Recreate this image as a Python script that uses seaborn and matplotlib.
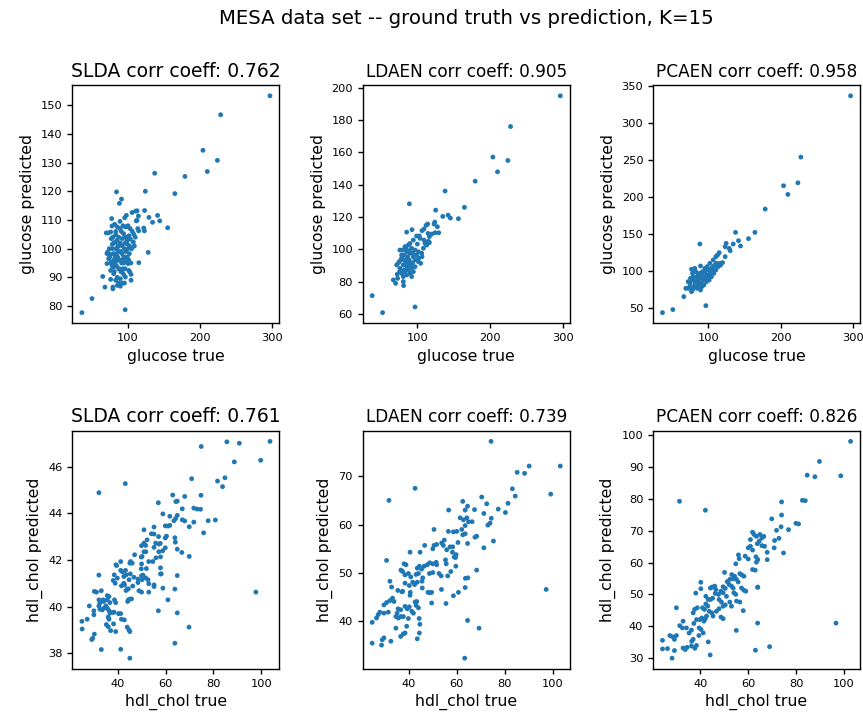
import matplotlib
matplotlib.use("Agg")
import matplotlib.pyplot as plt
from matplotlib.ticker import MultipleLocator
import pandas as pd
import seaborn as sns

# ---------------- data (true, predicted) ----------------
slda_glucose = [
    (297, 153.3), (228.5, 146.7), (204, 134.3), (224, 130.8), (210, 126.9), (179, 125.2), (137, 126.3),
    (165, 119.2), (124, 120), (84, 119.8), (91, 117.3), (88, 115.8), (36, 77.7), (50, 82.6), (96, 78.7),
    (65, 90.3), (68, 86.6), (79, 86.6), (79, 86.0), (115, 95.1), (128, 98.7), (155, 107.3), (141, 111.6),
    (144, 109.7), (134, 109.2), (129, 110.9), (123, 113.3), (112.5, 113.2), (110.6, 113.1), (105.6, 112.6),
    (114.4, 111.4), (112.5, 109.9), (111.5, 109.7), (97.7, 111.6), (95.4, 110.8), (77.3, 110.5), (88.9, 109.5),
    (81.4, 108.5), (77.7, 107.9), (85.2, 107.6), (96.3, 107.6), (98.6, 107.6), (113.5, 107), (121.8, 107.2),
    (122.7, 106.2), (114.8, 106.2), (72.6, 105.5), (69.8, 105.5), (75.9, 105.8), (90.7, 106), (82.8, 104.9),
    (94, 105.2), (101.4, 104.5), (103.2, 103.3), (92.1, 103.5), (76.8, 103.5), (107.4, 102.3), (108.8, 100.9),
    (98.6, 101.7), (82.4, 102.3), (78.2, 101.5), (87, 100.9), (100, 100), (71.7, 98.8), (70.8, 98.3),
    (74.5, 97.1), (80, 98.3), (85.6, 99.4), (91.6, 98.3), (96.3, 97.1), (101.9, 98.3), (70.8, 94.8),
    (77.7, 95.3), (84.7, 95.9), (94, 95), (100, 94.8), (80, 93.6), (87, 93), (75.9, 92.4), (91.6, 91.9),
    (101, 92.4), (104.2, 91), (102.3, 91.9), (75.9, 89.3), (82.8, 89), (89.3, 89.5), (96.3, 90.1), (104.2, 89),
    (85.2, 87.2), (89.3, 86.9), (80, 91.3), (73.1, 96.5),
    (78, 100), (80, 96), (82, 97), (84, 94), (86, 97), (88, 96), (90, 99), (92, 101), (94, 97), (96, 93),
    (98, 96), (79, 104), (83, 106), (87, 104), (89, 102), (91, 95), (93, 93), (95, 100), (97, 104), (99, 103),
    (76, 98), (74, 100), (81, 92), (85, 90), (87, 88), (92, 88), (95, 88), (83, 100), (86, 101), (88, 93),
    (90, 92), (94, 91), (97, 99), (99, 97), (80, 102), (78, 94), (76, 95), (85, 103), (93, 108), (89, 107),
    (96, 102), (92, 96), (84, 98), (82, 95), (88, 99), (102, 101), (105, 100), (106, 106), (103, 107),
    (100, 108), (110, 104), (108, 105), (101, 96), (104, 95),
]

ldaen_glucose = [
    (296.3, 194.9), (228, 175.9), (203.7, 157), (224.3, 154.9), (210.1, 147.9), (179.4, 142.1), (138.1, 136),
    (89, 128.1), (164.7, 125.9), (125.2, 124.2), (134.9, 120.3), (142.2, 121.1), (145.4, 119.3), (156.4, 118.9),
    (92.7, 112.1), (85.3, 110.6), (114.2, 115.6), (112, 114.8), (124, 116.8), (123, 115.6), (127.5, 113.9),
    (124.3, 110.2), (129.4, 110.2), (106.4, 111.5), (109.2, 112.5), (114.7, 109.8), (99, 108.2), (102.8, 108.2),
    (115, 104.9), (116.5, 104.1), (110.6, 103.6), (94.5, 105.7), (89.9, 103.6), (104.6, 91.3), (67, 81),
    (70.2, 78.9), (72.9, 82), (72.4, 84.5), (80.7, 80), (81.2, 77.5), (38, 71.3), (52.3, 60.8), (96.8, 64.3),
    (76.1, 99.5), (83, 101.6), (87.6, 102.6), (92.2, 100.6), (96.8, 99.5), (101.4, 98.5), (106, 97.5),
    (108.3, 100.6), (71.6, 90.3), (75.2, 92.3), (78.4, 94.4), (81.7, 96.4), (85.3, 98.5), (89.9, 97.5),
    (94.5, 95.4), (99, 96.4), (76.1, 88.2), (80.7, 90.3), (84.4, 92.3), (88.9, 93.4), (93.6, 91.7), (78.4, 85.1),
    (83, 86.1), (87.6, 87.2), (92.2, 88.2), (80.7, 83.1), (85.3, 84.1), (89.9, 85.1), (94.5, 86.1), (97.2, 93.4),
    (101.8, 94.4), (106.4, 95.4), (86.7, 95.4), (83, 93.4), (78.4, 96.4), (90.8, 90.3), (86.2, 89.2),
    (81.7, 87.2), (96.8, 89.2), (101.4, 92.3), (79.8, 99.5), (84.4, 100.6), (112.8, 102.6), (109.2, 105.7),
    (103.7, 106.7), (100, 103.2), (116.5, 107.8), (119.7, 109.4), (75.7, 86.1), (74.3, 91.7), (77.5, 93.4),
    (89, 99.1), (93.6, 97.5), (88, 91.7), (83.5, 90.9), (92.2, 83.1),
]

pcaen_glucose = [
    (296.3, 336.6), (227.8, 253.8), (203.9, 215.1), (223.7, 219.1), (209.9, 203.4), (178.6, 183.6),
    (137.7, 152.1), (164.4, 152.1), (155.6, 143.6), (141.8, 140.9), (144.6, 133.7), (134.5, 136.4),
    (124.8, 137.3), (123.4, 132.8), (129, 130.5), (130.3, 127.4), (123.4, 119.3), (88.5, 136.4), (115.2, 124.7),
    (110.6, 119.3), (112.9, 121.5), (106.9, 114.8), (102.3, 110.3), (116.1, 110.3), (96.8, 53.1), (37, 43.7),
    (51.3, 47.8), (66.4, 65.3), (69.2, 76.5), (72.4, 85.5), (77, 102.2), (81.6, 103.5), (89.4, 106.7),
    (74.7, 78.8), (78.4, 74.3), (77, 87.8), (81.6, 83.3), (79.3, 92.3), (83.9, 87.8), (86.2, 94.5), (88.5, 90),
    (90.8, 96.8), (93.1, 92.3), (95.4, 99), (97.7, 94.5), (100, 101.3), (102.3, 96.8), (104.6, 103.5),
    (106.9, 105.8), (109.2, 108), (111.5, 110.3), (74.7, 83.3), (75.6, 90), (80.2, 78.8), (83, 81), (86.2, 85.5),
    (87.6, 78.8), (90.8, 83.3), (93.1, 87.8), (96.8, 90), (100, 92.3), (103.2, 99), (106, 101.3), (81.6, 90),
    (84.8, 92.3), (88.5, 96.8), (92.2, 99), (95.4, 103.5), (98.6, 105.8), (78.4, 96.8), (83, 99), (72.4, 76.5),
    (77, 72), (84.8, 76.5), (89.4, 74.3), (94, 81), (97.7, 85.5), (101.4, 87.8), (104.6, 92.3), (107.8, 96.8),
    (110.6, 101.3), (113.8, 105.8), (117, 108), (119.8, 111.2), (80.7, 87.8), (86.7, 82.4), (91.3, 78.8),
]

slda_hdl = [
    (103.6, 47.08), (85.6, 47.06), (90.8, 47.0), (74.9, 46.86), (99.7, 46.27), (88.7, 46.2), (70.9, 45.48),
    (81.7, 45.38), (84.8, 45.52), (83.8, 45.14), (32.2, 44.88), (43.2, 45.27), (63, 44.78), (64.9, 44.52),
    (64.3, 44.5), (68, 44.72), (74.8, 44.77), (57, 44.45), (67, 44.19), (71.8, 44.22), (73.2, 44.18),
    (74.6, 44.17), (58.9, 43.97), (61.8, 43.87), (63.5, 43.68), (64.2, 43.77), (64.9, 43.91), (67, 43.72),
    (68, 43.67), (69.9, 43.42), (71.8, 43.62), (77.8, 43.68), (80.8, 43.71), (75.9, 43.16), (51, 43.29),
    (55.2, 43.41), (59.9, 43.46), (61, 43.45), (61.8, 43.48), (54.1, 43.12), (55.2, 43.11), (57.1, 43.0),
    (52.3, 42.86), (51, 42.72), (51.7, 42.62), (59.9, 42.94), (60.4, 43.02), (63.9, 42.95), (64.1, 42.76),
    (55.9, 42.72), (57.3, 42.68), (57.8, 42.71), (50, 42.61), (55.2, 42.54), (51.8, 42.35), (51, 42.35),
    (59.9, 42.52), (58.8, 42.39), (64.9, 42.46), (66.8, 42.32), (69.9, 42.15), (47.1, 42.22), (49.9, 42.12),
    (50.2, 42.15), (57.2, 42.35), (57.9, 42.13), (56, 42.09), (54.7, 41.93), (53, 41.93), (45.4, 41.93),
    (45.1, 41.86), (46.1, 41.86), (39.3, 41.79), (39.6, 41.76), (41.3, 41.93), (50, 41.83), (52, 41.63),
    (49.9, 41.62), (57.9, 41.66), (43.3, 41.55), (41.3, 41.55), (42, 41.49), (45.3, 41.4), (50.6, 41.35),
    (50, 41.32), (57.9, 41.4), (58.2, 41.4), (46.8, 41.26), (38.6, 41.36), (32.2, 41.35), (64.9, 41.33),
    (39.9, 41.22), (43.6, 41.36), (42.6, 41.29), (48.5, 41.18), (50.2, 41.15), (51.7, 41.23), (52.7, 41.15),
    (38.2, 41.12), (39, 41.0), (42.6, 41.0), (42.9, 40.93), (44.8, 41.15), (53, 40.98), (55.2, 40.93),
    (55.2, 40.86), (48.5, 41.03), (44, 40.75), (44.5, 40.76), (46.3, 40.88), (43.5, 40.69), (41.6, 40.89),
    (48.9, 40.68), (50, 40.62), (53, 40.62), (58.9, 40.79), (63.9, 40.75), (30.3, 40.65), (31.2, 40.62),
    (33.2, 40.68), (35.7, 40.47), (36.4, 40.43), (32.2, 40.29), (34, 40.29), (32.6, 40.15), (34.2, 40.22),
    (35.7, 40.29), (36.8, 40.17), (38.7, 40.29), (39.2, 40.17), (44.5, 40.29), (45.1, 40.32), (45.8, 40.33),
    (44.2, 40.22), (61, 40.29), (28.2, 40.03), (30.1, 39.82), (30.1, 39.65), (32.2, 40.03), (32.6, 39.89),
    (35.1, 40.03), (35.7, 39.93), (36.4, 39.83), (38.5, 39.76), (36.8, 39.72), (37.9, 39.75), (40.4, 39.7),
    (41.3, 39.7), (34.3, 39.93), (33.6, 39.86), (57, 39.82), (64.9, 39.73), (25.1, 39.37), (27.3, 39.46),
    (25.2, 39.04), (36.1, 39.55), (36.4, 39.46), (41.6, 39.46), (42.8, 39.43), (35.3, 39.23), (36.1, 39.14),
    (37.1, 38.97), (38.3, 39.26), (39.2, 38.93), (44, 39.12), (44.7, 39.0), (45.1, 38.93), (30.3, 38.82),
    (29.6, 38.64), (29.2, 38.59), (69.8, 39.12), (33.2, 38.16), (41.3, 38.17), (45.1, 37.79), (63.9, 38.43),
    (97.7, 40.62),
]

ldaen_hdl = [
    (74.3, 77.2), (103.2, 72.1), (90.2, 72.1), (85.2, 70.8), (88.3, 70.6), (83.2, 67.4), (84.4, 65.9),
    (99.2, 66.3), (42.6, 67.5), (31.7, 65), (62.5, 64.8), (64.5, 63.8), (63.5, 63), (70.4, 65.7), (72.5, 64.3),
    (67.4, 63.1), (56.6, 63), (77.3, 63.2), (81.4, 64.4), (80.3, 62.5), (71.3, 62.3), (74.4, 61.3), (73.9, 60.3),
    (73, 59.9), (61.4, 61.4), (62.8, 61), (64.2, 61.4), (64.9, 60.6), (66.4, 60.6), (63.5, 59.8), (62.1, 59),
    (58.6, 58.5), (60, 58.6), (50.5, 59), (56.5, 58.6), (62.5, 57.9), (63.5, 58.1), (67.6, 57.4), (68.3, 57.6),
    (75.3, 56.6), (71.3, 55.2), (64.5, 56.1), (60.5, 56.3), (58.3, 55.4), (54.8, 56.8), (53.7, 56.2),
    (54.4, 55.7), (51.6, 55.9), (50.5, 55.7), (50, 55), (46.6, 55.7), (55.8, 54.8), (57.2, 55.4), (58.2, 54.3),
    (58.9, 53.3), (59.5, 53.2), (59.7, 53.8), (55.3, 52.7), (55.6, 51.9), (40.5, 54.3), (44.7, 54.3),
    (51.4, 52.2), (51.6, 51.7), (48.7, 52.1), (50, 51.9), (46.4, 51.4), (47.7, 51.7), (44.4, 51.4), (45.3, 50.8),
    (43.5, 51), (38, 51.9), (38.8, 51.7), (30.7, 52.6), (36.7, 50.6), (37.4, 50.3), (38.4, 49.6), (39.8, 49.9),
    (40.8, 49.2), (41.6, 48.1), (43, 49.7), (44, 49.9), (45.8, 49), (48.6, 49.9), (50, 50.1), (53.5, 49.4),
    (52.6, 49.9), (56.2, 49.4), (57.5, 50.3), (59.6, 51.4), (64.6, 49), (68.3, 50.6), (45.5, 48.3), (43.5, 48.1),
    (42.4, 47.6), (40.2, 47.4), (38.4, 47.9), (32.1, 48.3), (32.8, 47.1), (35.4, 46.4), (37.4, 46.2),
    (37.1, 46.1), (40.6, 46), (40.5, 45.4), (48, 46), (48.8, 45.9), (49.5, 46), (53.6, 46.6), (45.6, 46.9),
    (49.5, 43.8), (55.5, 43.7), (58.6, 45.3), (60.7, 46), (63.5, 47), (63.6, 48.9), (97.3, 46.6), (29.6, 43.4),
    (30.7, 43.9), (32.1, 44.3), (33.2, 44.8), (33.8, 44.1), (27.9, 41.9), (27.2, 41.4), (29.6, 41.7),
    (31.4, 41.9), (24.7, 39.8), (26.5, 40.7), (35.1, 41.7), (35.5, 42.6), (36.6, 42.4), (34.6, 41), (35.6, 40.7),
    (36.7, 41), (37.7, 41), (38.4, 43.1), (39.3, 42.6), (40.2, 43), (41.2, 42.1), (41.9, 41.7), (42.6, 44),
    (43.3, 44.1), (43, 43.3), (44, 42.8), (39.8, 40.6), (44.3, 40.6), (44.6, 39.4), (34.6, 38.6), (39.1, 39),
    (37.7, 37.4), (38.4, 37.6), (36.6, 36.9), (43.5, 36.4), (44.4, 37.6), (32.5, 35.9), (28.9, 36.2),
    (29.6, 36.6), (28.6, 35.1), (24.7, 35.5), (64.5, 40.2), (69.3, 38.6), (63.3, 32.4),
]

pcaen_hdl = [
    (102.7, 98), (89.7, 91.7), (98.6, 87.2), (84.6, 87.4), (87.8, 86.9), (31.3, 79.2), (42.1, 76.4),
    (73.9, 79), (82.6, 79.5), (83.8, 79.4), (69.8, 73.7), (73.9, 74.9), (79.9, 72.3), (81, 72.1), (71.8, 70.1),
    (73.7, 71.2), (76.8, 70.3), (72.8, 67.6), (71, 66.9), (70.8, 64.6), (74.7, 63), (67.9, 63.2), (67.9, 60.9),
    (61.8, 69.5), (62.4, 68.8), (63.4, 68.2), (64.9, 68.8), (65.7, 67.7), (66.5, 68.2), (64.6, 66.7),
    (63.8, 65.9), (65.7, 65.3), (66.8, 65.1), (60.9, 67.2), (60, 64.6), (60.9, 65.1), (61.8, 63.9), (63.2, 61.8),
    (64, 60.9), (63.4, 60.1), (58.7, 62), (60, 61.1), (55.9, 62.4), (56.2, 61.2), (54.8, 59.6), (61.8, 57.8),
    (62.9, 57.6), (50.1, 56.9), (56.5, 56.5), (57.3, 56.1), (58.2, 55.7), (53.1, 56.2), (54.3, 55.7),
    (53.7, 54.9), (52.3, 54.7), (51.2, 54), (55.1, 54.7), (55.8, 53.9), (52, 53.1), (53, 52.6), (49.5, 52.4),
    (50.4, 51.9), (48.6, 51), (46, 52.6), (45, 52.3), (44.2, 52), (40.2, 53.8), (40.2, 51.8), (38.1, 50.4),
    (46.2, 50.3), (44.2, 48.4), (45.1, 48.8), (47.8, 48.4), (48.8, 47.6), (49.5, 46.3), (50.4, 46.7),
    (52.3, 47.6), (53, 46.3), (55.1, 47.9), (56.5, 47.6), (59, 51), (63.9, 52.2), (57.9, 44.9), (48.6, 42.9),
    (49.5, 42.4), (42.3, 47), (43.1, 46.3), (40.9, 45.8), (41.7, 45.3), (38.7, 45.8), (37.6, 45.3), (37, 44.2),
    (43.7, 44.7), (44.8, 44.2), (45.3, 43.2), (42.6, 43.2), (42, 42.3), (39.8, 42.1), (40.6, 42.6), (41.5, 41.6),
    (38.4, 42.1), (37.3, 40.9), (39.5, 39.5), (40.3, 39), (34.2, 39.5), (35.3, 37.9), (36.3, 38.8), (32.8, 41.6),
    (31.4, 40.2), (32.5, 39.5), (30, 45.8), (30, 37.1), (29.2, 35.9), (27.3, 37.1), (28.4, 36.7), (24.2, 35.6),
    (26.3, 33), (24.2, 32.9), (29.2, 32.4), (28.2, 30), (32.8, 33.2), (33.7, 32.7), (34.5, 33.4), (36.3, 33.8),
    (37.7, 33.1), (38.4, 34), (37, 35.9), (36.4, 35.3), (39.4, 37.1), (41.2, 37.9), (43.3, 35.1), (44.1, 31),
    (55, 38.7), (63.9, 41), (63, 32.5), (68.9, 33.6), (96.6, 41), (64, 52.3), (46.5, 51.5), (47.6, 50),
    (43.3, 48.4), (42.3, 49.4), (47.8, 45.5), (46.7, 44.7), (49.5, 50.5), (50.9, 49.4), (54, 50.5), (54.8, 50),
    (57.2, 52), (58.2, 51.3), (53.7, 52),
]

titles = ["SLDA corr coeff: 0.762", "LDAEN corr coeff: 0.905", "PCAEN corr coeff: 0.958",
          "SLDA corr coeff: 0.761", "LDAEN corr coeff: 0.739", "PCAEN corr coeff: 0.826"]
x_labels = ["glucose true", "glucose true", "glucose true",
            "hdl_chol true", "hdl_chol true", "hdl_chol true"]
y_labels = ["glucose predicted", "glucose predicted", "glucose predicted",
            "hdl_chol predicted", "hdl_chol predicted", "hdl_chol predicted"]
suptitle = "MESA data set -- ground truth vs prediction, K=15"

panels = [slda_glucose, ldaen_glucose, pcaen_glucose, slda_hdl, ldaen_hdl, pcaen_hdl]
title_sizes = [13.5, 12.2, 12.2, 13.5, 12.2, 12.2]
x_steps = [100, 100, 100, 20, 20, 20]
y_steps = [10, 20, 50, 2, 10, 10]

# ---------------- style ----------------
sns.set_style("ticks")
plt.rcParams['font.family'] = ['DejaVu Sans']
plt.rcParams.update({
    "xtick.labelsize": 8.2, "ytick.labelsize": 8.2, "axes.labelsize": 11.3,
    "xtick.major.size": 3.5, "ytick.major.size": 3.5,
    "xtick.major.width": 1.0, "ytick.major.width": 1.0,
    "axes.linewidth": 1.0, "axes.edgecolor": "black",
    "xtick.color": "black", "ytick.color": "black",
    "text.color": "black", "axes.labelcolor": "black",
})

fig, axes = plt.subplots(2, 3, figsize=(8.63, 7.22), dpi=100)
fig.subplots_adjust(left=0.084, right=0.9965, bottom=0.0734, top=0.8823, wspace=0.403, hspace=0.449)

for ax, pts, title, tsize, xl, yl, xs, ys in zip(axes.flat, panels, titles, title_sizes,
                                                 x_labels, y_labels, x_steps, y_steps):
    df = pd.DataFrame(pts, columns=["true", "pred"])
    sns.scatterplot(data=df, x="true", y="pred", ax=ax, s=12, color="#1f77b4",
                    linewidth=0, edgecolor="none")
    ax.set_title(title, fontsize=tsize)
    ax.set_xlabel(xl)
    ax.set_ylabel(yl)
    ax.xaxis.set_major_locator(MultipleLocator(xs))
    ax.yaxis.set_major_locator(MultipleLocator(ys))

fig.suptitle(suptitle, fontsize=14.2, x=0.54, y=0.975, va="center")
fig.savefig("out.png", dpi=100)
